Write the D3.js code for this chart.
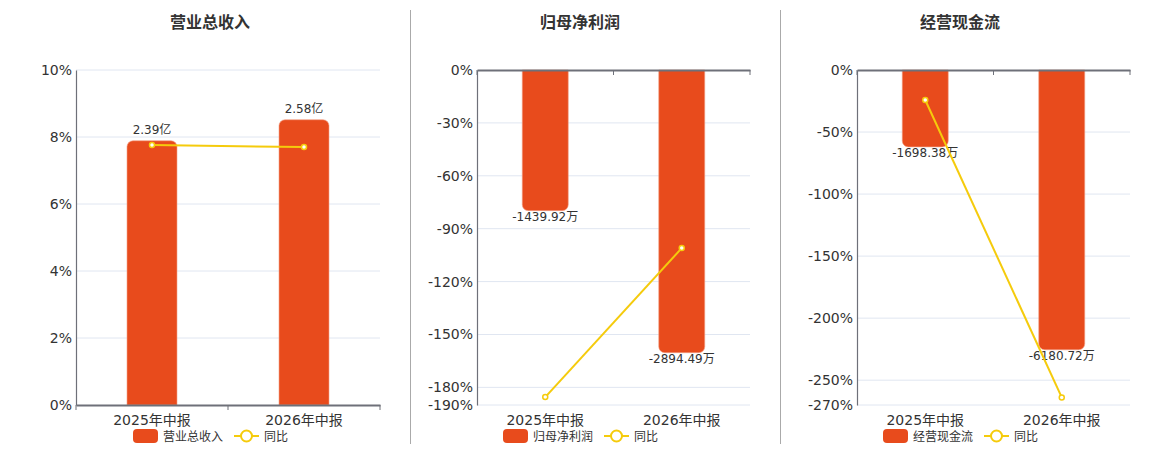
<!DOCTYPE html>
<html>
<head>
<meta charset="utf-8">
<script src="https://cdn.jsdelivr.net/npm/d3@7"></script>
<style>
  html, body { margin: 0; padding: 0; background: #fff; }
  svg { display: block; font-family: "DejaVu Sans", "Noto Sans CJK SC", sans-serif; }
</style>
</head>
<body>
<svg id="chart" width="1160" height="450"></svg>
<script>
// categories shared by all three panels
const categories = ['2025年中报', '2026年中报'];

// 营业总收入 (亿) and 同比 (%)
const revenueValues = [2.39, 2.58];
const revenueLabels = ['2.39亿', '2.58亿'];
const revenueYoy = [7.76, 7.70];
const revenueTicks = [0, 2, 4, 6, 8, 10];

// 归母净利润 (万) and 同比 (%)
const profitValues = [-1439.92, -2894.49];
const profitLabels = ['-1439.92万', '-2894.49万'];
const profitYoy = [-185.5, -101.02];
const profitTicks = [0, -30, -60, -90, -120, -150, -180, -190];

// 经营现金流 (万) and 同比 (%)
const cashValues = [-1698.38, -6180.72];
const cashLabels = ['-1698.38万', '-6180.72万'];
const cashYoy = [-24.2, -263.9];
const cashTicks = [0, -50, -100, -150, -200, -250, -270];

const barColor = '#e84b1c';
const lineColor = '#f5cb0c';
const axisColor = '#6e7079';
const gridColor = '#e0e6f1';
const textColor = '#333';

const svg = d3.select('#chart');

const panels = [
  { title: '营业总收入', values: revenueValues, labels: revenueLabels, yoy: revenueYoy,
    ticks: revenueTicks, barDomain: [0, 3.03], left: 76, right: 380, center: 210, bw: 50, legendX: 133 },
  { title: '归母净利润', values: profitValues, labels: profitLabels, yoy: profitYoy,
    ticks: profitTicks, barDomain: [-3430, 0], left: 477, right: 750, center: 580, bw: 46, legendX: 503 },
  { title: '经营现金流', values: cashValues, labels: cashLabels, yoy: cashYoy,
    ticks: cashTicks, barDomain: [-7400, 0], left: 857, right: 1130, center: 960, bw: 46, legendX: 883 }
];

const plotTop = 70, plotBottom = 405;

// rounded only on the far end of the bar
const barPath = (x, w, y0, y1, r) => {
  const p = d3.path();
  const s = y1 < y0 ? 1 : -1;
  p.moveTo(x, y0);
  p.lineTo(x, y1 + s * r);
  p.arcTo(x, y1, x + r, y1, r);
  p.lineTo(x + w - r, y1);
  p.arcTo(x + w, y1, x + w, y1 + s * r, r);
  p.lineTo(x + w, y0);
  p.closePath();
  return p.toString();
};

panels.forEach(pn => {
  const g = svg.append('g');
  const pctDomain = d3.extent(pn.ticks);

  const x = d3.scaleBand().domain(categories).range([pn.left, pn.right]);
  const y = d3.scaleLinear().domain(pctDomain).range([plotBottom, plotTop]);
  const yBar = d3.scaleLinear().domain(pn.barDomain).range([plotBottom, plotTop]);
  const cx = i => x(categories[i]) + x.bandwidth() / 2;

  // title
  g.append('text')
    .attr('x', pn.center).attr('y', 28)
    .attr('text-anchor', 'middle')
    .attr('font-size', 16).attr('font-weight', 'bold')
    .attr('font-family', '"Noto Sans CJK SC", sans-serif')
    .attr('fill', textColor)
    .text(pn.title);

  // grid
  const zeroY = y(0);
  g.append('g').selectAll('line')
    .data(pn.ticks.filter(t => Math.abs(y(t) - zeroY) > 0.5))
    .join('line')
    .attr('x1', pn.left).attr('x2', pn.right)
    .attr('y1', d => y(d)).attr('y2', d => y(d))
    .attr('stroke', gridColor).attr('stroke-width', 1);

  // y axis
  const yAxis = g.append('g')
    .attr('transform', `translate(${pn.left},0)`)
    .call(d3.axisLeft(y).tickValues(pn.ticks).tickFormat(d => d + '%').tickSize(0).tickPadding(4));
  yAxis.select('.domain').attr('stroke', axisColor).attr('stroke-width', 1.2);
  yAxis.selectAll('text').attr('font-size', 14).attr('fill', textColor)
    .attr('font-family', '"DejaVu Sans", sans-serif');

  // bars
  g.append('g').selectAll('path')
    .data(pn.values)
    .join('path')
    .attr('d', (d, i) => barPath(cx(i) - pn.bw / 2, pn.bw, yBar(0), yBar(d), 6))
    .attr('fill', barColor)
    .attr('stroke', '#f3a186').attr('stroke-width', 0.6);

  // x axis at zero line
  const xAxis = g.append('g')
    .attr('transform', `translate(0,${zeroY})`)
    .call(d3.axisBottom(x).tickSize(0).tickFormat(''));
  xAxis.select('.domain').attr('stroke', axisColor).attr('stroke-width', 2);
  const bounds = [pn.left, pn.left + x.bandwidth(), pn.right];
  g.append('g').selectAll('line')
    .data(bounds)
    .join('line')
    .attr('x1', d => d).attr('x2', d => d)
    .attr('y1', zeroY).attr('y2', zeroY + 5)
    .attr('stroke', axisColor).attr('stroke-width', 1);

  // category labels
  g.append('g').selectAll('text')
    .data(categories)
    .join('text')
    .attr('x', (d, i) => cx(i))
    .attr('y', 425)
    .attr('text-anchor', 'middle')
    .attr('font-size', 14).attr('fill', textColor)
    .text(d => d);

  // bar value labels
  g.append('g').selectAll('text')
    .data(pn.values)
    .join('text')
    .attr('x', (d, i) => cx(i))
    .attr('y', d => d >= 0 ? yBar(d) - 7 : yBar(d) + 10)
    .attr('text-anchor', 'middle')
    .attr('font-size', 12).attr('fill', textColor)
    .text((d, i) => pn.labels[i]);

  // yoy line
  const line = d3.line()
    .x((d, i) => cx(i))
    .y(d => y(d));
  g.append('path')
    .datum(pn.yoy)
    .attr('d', line)
    .attr('fill', 'none')
    .attr('stroke', lineColor).attr('stroke-width', 2);
  g.append('g').selectAll('circle')
    .data(pn.yoy)
    .join('circle')
    .attr('cx', (d, i) => cx(i))
    .attr('cy', d => y(d))
    .attr('r', 2.5)
    .attr('fill', '#fff')
    .attr('stroke', lineColor).attr('stroke-width', 1.5);

  // legend
  const leg = g.append('g').attr('transform', `translate(${pn.legendX},436)`);
  leg.append('rect')
    .attr('x', 0).attr('y', -7).attr('width', 25).attr('height', 14).attr('rx', 4)
    .attr('fill', barColor);
  leg.append('text')
    .attr('x', 30).attr('y', 4.5)
    .attr('font-size', 12).attr('fill', textColor)
    .attr('font-family', '"Noto Sans CJK SC", sans-serif')
    .text(pn.title);
  const lx2 = 101;
  leg.append('line')
    .attr('x1', lx2).attr('x2', lx2 + 25).attr('y1', 0).attr('y2', 0)
    .attr('stroke', lineColor).attr('stroke-width', 2);
  leg.append('circle')
    .attr('cx', lx2 + 12.5).attr('cy', 0).attr('r', 5.5)
    .attr('fill', '#fff').attr('stroke', lineColor).attr('stroke-width', 2);
  leg.append('text')
    .attr('x', lx2 + 30).attr('y', 4.5)
    .attr('font-size', 12).attr('fill', textColor)
    .attr('font-family', '"Noto Sans CJK SC", sans-serif')
    .text('同比');
});

// panel dividers
svg.append('g').selectAll('line')
  .data([410.5, 780.5])
  .join('line')
  .attr('x1', d => d).attr('x2', d => d)
  .attr('y1', 10).attr('y2', 444)
  .attr('stroke', '#aaa').attr('stroke-width', 1);
</script>
</body>
</html>
